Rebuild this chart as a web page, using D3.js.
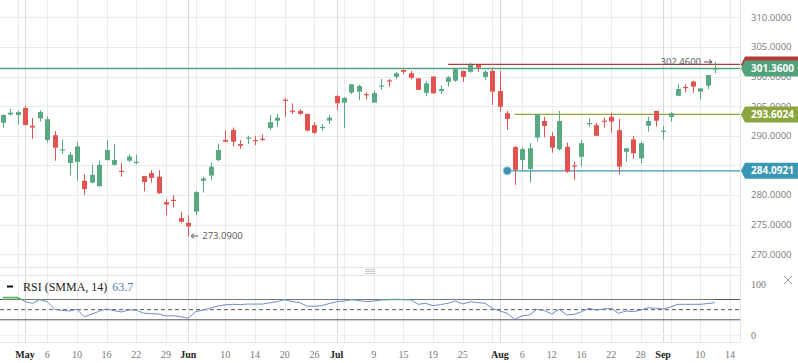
<!DOCTYPE html>
<html>
<head>
<meta charset="utf-8">
<script src="https://cdn.jsdelivr.net/npm/d3@7"></script>
<style>
  html, body { margin: 0; padding: 0; background: #fff; }
  svg { display: block; }
</style>
</head>
<body>
<div id="chart"></div>
<script>
// trading days shown on the chart
var dates = [
  "04-26","04-29","04-30",
  "05-01","05-02","05-03","05-06","05-07","05-08","05-09","05-10","05-13","05-14","05-15","05-16","05-17","05-20","05-21","05-22","05-23","05-24","05-28","05-29","05-30","05-31",
  "06-03","06-04","06-05","06-06","06-07","06-10","06-11","06-12","06-13","06-14","06-17","06-18","06-19","06-20","06-21","06-24","06-25","06-26","06-27","06-28",
  "07-01","07-02","07-03","07-05","07-08","07-09","07-10","07-11","07-12","07-15","07-16","07-17","07-18","07-19","07-22","07-23","07-24","07-25","07-26","07-29","07-30","07-31",
  "08-01","08-02","08-05","08-06","08-07","08-08","08-09","08-12","08-13","08-14","08-15","08-16","08-19","08-20","08-21","08-22","08-23","08-26","08-27","08-28","08-29","08-30",
  "09-03","09-04","09-05","09-06","09-09","09-10","09-11","09-12"
];
var open = [292.2,293.6,293.5,
  294.7,291.7,292.95,289.3,290.1,287.5,285.4,285.6,282.4,282.1,281.5,285.9,285.1,284.1,285.8,285.4,283.2,283.7,283.1,278.8,279.2,276.1,
  275.3,277.2,282.4,283.3,285.9,289.3,291.0,288.6,289.6,289.3,289.5,291.3,292.55,296.1,294.25,294.2,293.7,291.8,291.35,292.55,
  296.7,295.6,297.3,297.45,297.05,295.6,298.4,299.35,299.95,301.1,300.55,299.7,297.25,300.0,297.55,299.1,299.3,300.95,300.8,301.95,299.95,300.95,
  297.55,293.8,288.1,285.9,284.4,289.7,292.5,289.95,287.75,288.15,285.0,286.45,292.0,291.8,292.55,293.2,290.95,287.3,289.4,286.2,291.7,294.2,
  290.7,293.2,296.75,298.25,299.15,297.45,298.45,301.2];
var high = [293.6,294.5,294.3,
  295.0,293.0,294.3,293.3,290.8,289.4,287.3,288.9,283.5,285.1,285.8,289.3,288.6,285.4,286.9,286.8,283.2,284.2,284.2,279.3,280.0,277.2,
  276.6,280.7,283.1,285.5,288.7,290.9,291.4,289.3,290.0,290.0,290.2,293.5,293.7,296.4,295.5,294.5,293.7,292.3,292.0,293.5,
  296.9,296.5,298.75,298.6,297.35,297.6,299.6,299.6,300.8,301.2,300.95,299.75,299.25,300.1,298.5,300.1,301.4,300.95,302.35,301.95,301.1,301.4,
  300.95,294.2,288.3,288.1,288.75,293.6,293.2,290.6,294.2,288.85,285.6,289.3,292.95,292.2,293.05,293.8,292.85,287.9,290.0,289.1,293.2,294.2,
  291.65,293.95,298.75,298.7,299.25,298.0,300.25,302.46];
var low = [291.4,293.4,291.9,
  291.8,289.5,292.4,288.9,285.8,286.9,283.3,282.4,280.0,282.0,281.4,285.8,285.0,283.1,285.6,285.2,280.6,282.1,280.2,276.6,277.9,275.3,
  273.09,276.6,280.4,282.5,285.7,288.9,288.2,287.8,288.6,288.4,289.1,291.0,291.5,293.2,293.7,293.5,290.7,290.35,290.9,292.0,
  294.35,291.3,297.05,296.05,296.2,295.6,297.7,298.3,299.6,300.4,299.55,297.75,296.7,297.15,297.05,298.3,299.1,299.1,300.65,300.8,299.4,295.2,
  294.05,291.0,281.7,284.25,282.1,289.0,289.75,287.15,287.5,283.75,282.55,284.8,291.55,290.0,291.35,290.5,283.5,285.6,286.1,285.35,290.7,291.55,
  289.4,292.4,296.75,297.35,297.25,296.15,297.85,300.55];
var close = [293.5,293.9,294.0,
  291.8,291.4,294.0,292.8,288.0,287.7,286.8,288.2,281.0,283.4,285.1,287.6,285.9,284.0,286.5,285.6,282.2,282.9,280.3,278.4,279.1,275.5,
  274.7,280.5,282.8,284.8,287.6,289.0,289.0,288.3,289.7,289.25,289.4,292.3,293.05,295.95,294.1,293.7,290.9,290.5,291.5,293.05,
  295.5,296.4,298.7,298.4,296.95,297.2,298.5,299.25,300.55,300.8,299.8,297.75,298.85,297.15,297.9,299.85,301.25,299.95,301.95,301.5,300.8,297.45,
  294.9,292.85,284.25,287.75,287.9,293.6,291.65,288.0,292.5,283.95,284.9,288.75,292.15,290.0,292.45,292.4,284.8,287.9,287.05,288.75,292.5,292.55,
  290.85,293.8,297.9,298.15,298.3,298.0,300.25,301.36];
var rsi = [74,74,74,
  66,62.5,69.7,65.7,50.7,48.5,47.3,50.7,36.1,41,47,51.3,48,45.4,49.3,49,43,42,41.5,37.5,38,36,
  33,46,49,53,57,59.5,60.5,60,61,61,61,63.5,66,69.5,66,64,57,56.6,58,62,
  65.7,67,69.5,68,65.7,67,69,69.5,69.8,69.5,69,60.5,62.5,57.9,60,62.5,67,61.2,65.7,64,62.5,52.6,
  47.3,42.8,31,38,39.5,50.7,48,41.5,50.7,39.5,40.8,46,52.6,49.3,51.3,52.6,42.8,47.3,46,49.3,53.9,52.6,
  51.3,55.3,60.5,60.5,60.5,60.5,62,63.7];

// x axis ticks (position in the dates list; 98 is past the last bar)
var tickPos = [3,6,10,14,18,22,25,30,34,38,42,45,50,54,58,62,67,70,74,78,82,86,89,94,98];
var tickText = ["May","6","10","16","22","29","Jun","10","14","20","26","Jul","9","15","19","25","Aug","6","12","16","22","28","Sep","10","14"];
var monthPos = [3,25,45,67,89];
var weekPos = [2,26,46,66,90];

var priceTicks = [270,275,280,285,290,295,300,305,310];
var rsiBands = [30,50,70];

// horizontal levels drawn on the chart
var levelValue = [301.36, 302.05, 293.6024, 284.0921];
var levelFrom = [null, 60, 69, 68];
var levelColor = ["#52a37c", "#b23c3c", "#8ca53e", "#3b98b4"];
var levelLabel = ["301.3600", "", "293.6024", "284.0921"];

var width = 798, height = 363;
var plotRight = 740;

var svg = d3.select("#chart").append("svg")
  .attr("width", width).attr("height", height)
  .style("font-family", "'Open Sans', sans-serif");

svg.append("rect").attr("width", width).attr("height", height).attr("fill", "#fff");

var x = d3.scaleLinear().domain([0, 96]).range([2.74, 2.74 + 96 * 7.42]);
var y = d3.scaleLinear().domain([270, 310]).range([254.3, 17.3]);
var ry = d3.scaleLinear().domain([0, 100]).range([335, 284.3]);

var priceTop = 0, priceBottom = 267, rsiTop = 275, rsiBottom = 342;

// ---- grid
var grid = svg.append("g");
grid.selectAll("line.ph").data(priceTicks).enter().append("line")
  .attr("x1", 0).attr("x2", plotRight)
  .attr("y1", d => Math.round(y(d)) + 0.5).attr("y2", d => Math.round(y(d)) + 0.5)
  .attr("stroke", "#e9ebee");

grid.selectAll("line.vx").data(tickPos.concat(weekPos).filter(p => monthPos.indexOf(p) < 0)).enter().append("line")
  .attr("x1", d => Math.round(x(d)) + 0.5).attr("x2", d => Math.round(x(d)) + 0.5)
  .attr("y1", priceTop).attr("y2", rsiBottom)
  .attr("stroke", "#e9ebee");

grid.selectAll("line.vm").data(monthPos).enter().append("line")
  .attr("x1", d => Math.round(x(d)) + 0.5).attr("x2", d => Math.round(x(d)) + 0.5)
  .attr("y1", priceTop).attr("y2", rsiBottom)
  .attr("stroke", "#d6d9dd");

// pane borders
[priceBottom, rsiTop, rsiBottom].forEach(function (v) {
  grid.append("line").attr("x1", 0).attr("x2", plotRight)
    .attr("y1", v + 0.5).attr("y2", v + 0.5).attr("stroke", "#e3e5e8");
});
grid.append("line").attr("x1", 0).attr("x2", plotRight)
  .attr("y1", Math.round(ry(0)) + 0.5).attr("y2", Math.round(ry(0)) + 0.5).attr("stroke", "#eceef0");
grid.append("line").attr("x1", plotRight + 0.5).attr("x2", plotRight + 0.5)
  .attr("y1", 0).attr("y2", rsiBottom).attr("stroke", "#e3e5e8");

// ---- level lines
levelValue.forEach(function (v, i) {
  var x0 = levelFrom[i] == null ? 0 : x(levelFrom[i]);
  svg.append("line")
    .attr("x1", x0).attr("x2", plotRight)
    .attr("y1", y(v)).attr("y2", y(v))
    .attr("stroke", levelColor[i]).attr("stroke-width", 1.3);
});
svg.append("circle").attr("cx", x(levelFrom[3])).attr("cy", y(levelValue[3]))
  .attr("r", 4).attr("fill", "#3d93b5").attr("stroke", "#8cc3d6").attr("stroke-width", 1);

// ---- candles
var bars = d3.range(dates.length);
var candle = svg.append("g").selectAll("g").data(bars).enter().append("g");
candle.append("line")
  .attr("x1", d => Math.round(x(d)) + 0.5).attr("x2", d => Math.round(x(d)) + 0.5)
  .attr("y1", d => y(high[d])).attr("y2", d => y(low[d]))
  .attr("stroke", d => close[d] >= open[d] ? "#58a882" : "#e0534f");
candle.append("rect")
  .attr("x", d => Math.round(x(d)) - 2)
  .attr("width", 5)
  .attr("y", d => y(Math.max(open[d], close[d])))
  .attr("height", d => Math.max(1.2, Math.abs(y(open[d]) - y(close[d]))))
  .attr("fill", d => close[d] >= open[d] ? "#58a882" : "#e0534f");

// ---- high / low markers
var hiIdx = d3.maxIndex(high), loIdx = d3.minIndex(low);
function arrow(x1, x2, yy) {
  var dir = x2 > x1 ? 1 : -1;
  svg.append("path")
    .attr("d", "M" + x1 + "," + yy + "H" + x2 + "M" + (x2 - 3 * dir) + "," + (yy - 2.5) + "L" + x2 + "," + yy + "L" + (x2 - 3 * dir) + "," + (yy + 2.5))
    .attr("fill", "none").attr("stroke", "#555").attr("stroke-width", 1);
}
arrow(x(hiIdx) - 11, x(hiIdx) - 3, y(high[hiIdx]));
svg.append("text").attr("x", x(hiIdx) - 14).attr("y", y(high[hiIdx]))
  .attr("dy", "0.35em").attr("text-anchor", "end")
  .attr("font-size", 9.5).attr("fill", "#555")
  .text(d3.format(".4f")(high[hiIdx]));
arrow(x(loIdx) + 10, x(loIdx) + 3, y(low[loIdx]));
svg.append("text").attr("x", x(loIdx) + 14).attr("y", y(low[loIdx]))
  .attr("dy", "0.35em")
  .attr("font-size", 9.5).attr("fill", "#555")
  .text(d3.format(".4f")(low[loIdx]));

// ---- price axis labels (285 sits fully under the blue tag, so it is skipped)
svg.append("g").selectAll("text").data(priceTicks.filter(d => d !== 285)).enter().append("text")
  .attr("x", 751).attr("y", d => y(d)).attr("dy", "0.35em")
  .attr("font-size", 9.5).attr("fill", "#7a7a7a")
  .text(d => d3.format(".4f")(d));

// ---- level tags (red first so the green one sits above it)
[1, 0, 2, 3].forEach(function (i) {
  var c = y(levelValue[i]);
  svg.append("path")
    .attr("d", "M745," + (c - 8) + "H798V" + (c + 8) + "H745L741," + c + "Z")
    .attr("fill", levelColor[i]);
  if (levelLabel[i]) {
    svg.append("text").attr("x", 751).attr("y", c).attr("dy", "0.36em")
      .attr("font-size", 10).attr("font-weight", "bold").attr("fill", "#fff")
      .text(levelLabel[i]);
  }
});

// ---- RSI pane
var bandG = svg.append("g");
rsiBands.forEach(function (v) {
  bandG.append("line").attr("x1", 0).attr("x2", plotRight)
    .attr("y1", ry(v)).attr("y2", ry(v))
    .attr("stroke", "#555").attr("stroke-width", 1)
    .attr("stroke-dasharray", v === 50 ? "4,3" : null);
});

var rsiLine = d3.line().x(d => x(d)).y(d => ry(rsi[d]));
svg.append("clipPath").attr("id", "ob").append("rect")
  .attr("x", 0).attr("y", rsiTop).attr("width", plotRight).attr("height", ry(70) - rsiTop);
svg.append("path").datum(bars)
  .attr("d", d3.area().x(d => x(d)).y0(ry(70)).y1(d => ry(rsi[d])))
  .attr("fill", "#c9ecc9").attr("clip-path", "url(#ob)");
svg.append("path").datum(bars).attr("d", rsiLine)
  .attr("fill", "none").attr("stroke", "#6b8fc6").attr("stroke-width", 1);
svg.append("path").datum(bars).attr("d", rsiLine)
  .attr("fill", "none").attr("stroke", "#55b55a").attr("stroke-width", 1.6)
  .attr("clip-path", "url(#ob)");

svg.append("line").attr("x1", 7).attr("x2", 13).attr("y1", 286.5).attr("y2", 286.5)
  .attr("stroke", "#111").attr("stroke-width", 2);
var lab = svg.append("text").attr("x", 23).attr("y", 291)
  .attr("font-family", "'Liberation Serif', serif").attr("font-size", 12).attr("fill", "#222");
lab.append("tspan").text("RSI (SMMA, 14)");
lab.append("tspan").attr("dx", 5).attr("fill", "#4a78b5").text(rsi[rsi.length - 1].toFixed(1));

svg.append("g").selectAll("text").data([0, 100]).enter().append("text")
  .attr("x", 751).attr("y", d => ry(d)).attr("dy", "0.35em")
  .attr("font-family", "'Liberation Serif', serif").attr("font-size", 10).attr("fill", "#777")
  .text(d => d);

// close cross of the indicator
svg.append("path").attr("d", "M784,276L792,284M792,276L784,284")
  .attr("stroke", "#999").attr("stroke-width", 1);

// pane resize handle
[269, 271, 273].forEach(function (v) {
  svg.append("line").attr("x1", 365).attr("x2", 375).attr("y1", v + 0.5).attr("y2", v + 0.5)
    .attr("stroke", "#c4c4c4");
});

// ---- x axis labels
svg.append("g").selectAll("text").data(tickPos).enter().append("text")
  .attr("x", d => x(d)).attr("y", 354).attr("dy", "0.35em")
  .attr("text-anchor", "middle")
  .attr("font-family", "'Liberation Serif', serif").attr("font-size", 10)
  .attr("font-weight", (d, i) => isNaN(+tickText[i]) ? "bold" : "normal")
  .attr("fill", (d, i) => isNaN(+tickText[i]) ? "#222" : "#777")
  .text((d, i) => tickText[i]);
</script>
</body>
</html>
